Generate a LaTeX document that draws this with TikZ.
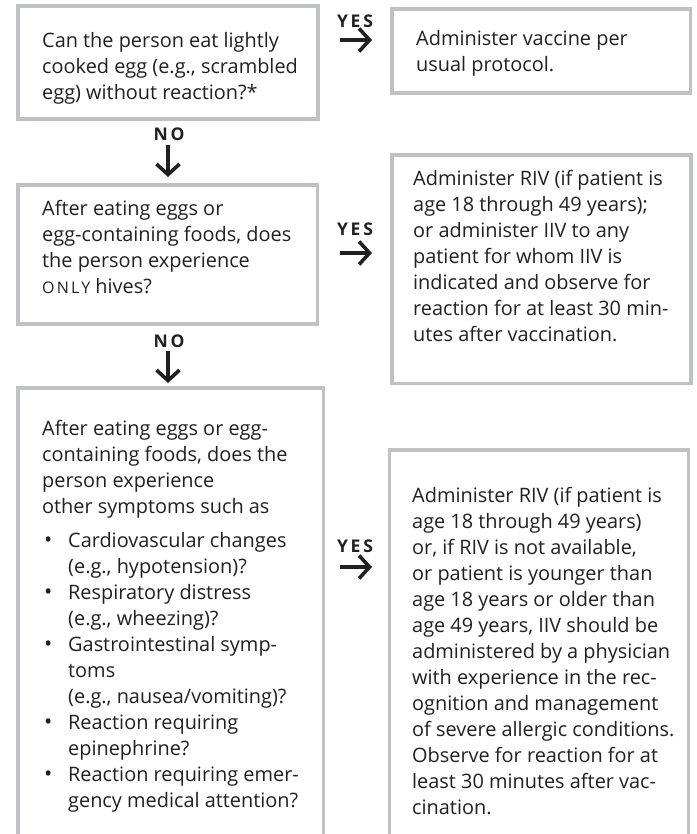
\documentclass[tikz,border=0pt]{standalone}
\usepackage{fontspec}
\setmainfont{Open Sans}
\newfontfamily\capsfont[LetterSpace=14]{Open Sans}
\newfontfamily\yesnofont[LetterSpace=16]{Open Sans}
\usetikzlibrary{arrows.meta}
\definecolor{boxgray}{RGB}{192,193,196}
\definecolor{ink}{RGB}{35,31,32}
\newcommand\itm{\makebox[26pt][l]{\hspace{2pt}{\fontsize{22}{22}\selectfont\textbullet}}}
\newcommand\ind{\makebox[26pt]{}}
\begin{document}
\begin{tikzpicture}[x=1pt,y=-1pt,
  box/.style={draw=boxgray,line width=3.5pt,rectangle,inner sep=0pt,outer sep=0pt,anchor=north west},
  txt/.style={anchor=north west,align=left,inner sep=0pt,text=ink,font=\fontsize{19.9}{26}\selectfont},
  lbl/.style={font=\fontsize{17.5}{17.5}\yesnofont\bfseries\selectfont,text=ink,inner sep=0pt},
  arr/.style={-{Straight Barb[length=10.5pt,width=23pt]},line width=3.6pt,draw=ink}]
\useasboundingbox (0,0) rectangle (696,834);
\node[box,minimum width=300,minimum height=113] (q1) at (18,6) {};
\node[box,minimum width=298.5,minimum height=84] (a1) at (392,9) {};
\node[box,minimum width=299.5,minimum height=139] (q2) at (18,185) {};
\node[box,minimum width=299,minimum height=228.5] (a2) at (392,155) {};
\node[box,minimum width=305.5,minimum height=448] (q3) at (18,388) {};
\node[box,minimum width=299,minimum height=386] (a3) at (389.5,450) {};
\node[txt] (q1t) at (42,32) {Can the person eat lightly\\cooked egg (e.g., scrambled\\egg) without reaction?*};
\node[txt] (a1t) at (416,30) {Administer vaccine per\\usual protocol.};
\node[txt] (q2t) at (42,200) {After eating eggs or\\egg-containing foods, does\\the person experience\\{\fontsize{16}{26}\capsfont\selectfont ONLY} hives?};
\node[txt] (a2t) at (413,170) {Administer RIV (if patient is\\age 18 through 49 years);\\or administer IIV to any\\patient for whom IIV is\\indicated and observe for\\reaction for at least 30 min-\\utes after vaccination.};
\node[txt] (q3t) at (42,420) {After eating eggs or egg-\\containing foods, does the\\person experience\\other symptoms such as\\[8pt]
\itm Cardiovascular changes\\
\ind(e.g., hypotension)?\\
\itm Respiratory distress\\
\ind(e.g., wheezing)?\\
\itm Gastrointestinal symp-\\
\ind toms\\
\ind(e.g., nausea/vomiting)?\\
\itm Reaction requiring\\
\ind epinephrine?\\
\itm Reaction requiring emer-\\
\ind gency medical attention?};
\node[txt] (a3t) at (412,487) {Administer RIV (if patient is\\age 18 through 49 years)\\or, if RIV is not available,\\or patient is younger than\\age 18 years or older than\\age 49 years, IIV should be\\administered by a physician\\with experience in the rec-\\ognition and management\\of severe allergic conditions.\\Observe for reaction for at\\least 30 minutes after vac-\\cination.};
\node[lbl] (y1) at (355,21) {YES};
\node[lbl] (n1) at (169,134) {NO};
\node[lbl] (y2) at (355,229) {YES};
\node[lbl] (n2) at (169,341) {NO};
\node[lbl] (y3) at (355,546) {YES};
\coordinate (y1a) at (340,40);
\coordinate (y1b) at (372,40);
\coordinate (n1a) at (168,145);
\coordinate (n1b) at (168,177);
\coordinate (y2a) at (340,253);
\coordinate (y2b) at (372,253);
\coordinate (n2a) at (168,351);
\coordinate (n2b) at (168,383);
\coordinate (y3a) at (340,567);
\coordinate (y3b) at (372,567);
\draw[arr] (y1a) -- (y1b);
\draw[arr] (n1a) -- (n1b);
\draw[arr] (y2a) -- (y2b);
\draw[arr] (n2a) -- (n2b);
\draw[arr] (y3a) -- (y3b);
\end{tikzpicture}
\end{document}
